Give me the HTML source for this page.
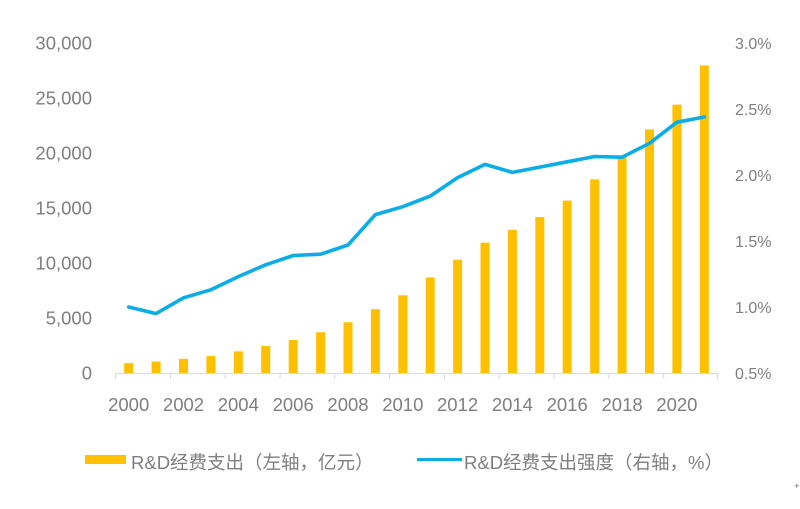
<!DOCTYPE html>
<html>
<head>
<meta charset="utf-8">
<style>
  html, body { margin: 0; padding: 0; background: #ffffff; }
  body { width: 800px; height: 509px; overflow: hidden; }
  svg { display: block; }
  .lab { font-family: "Liberation Sans", sans-serif; fill: #7f7f7f; }
  .leg { font-family: "Liberation Sans", "Noto Sans CJK SC", sans-serif; fill: #7f7f7f; font-size: 18.5px; }
</style>
</head>
<body>
<svg width="800" height="509" viewBox="0 0 800 509" xmlns="http://www.w3.org/2000/svg">
  <rect x="0" y="0" width="800" height="509" fill="#ffffff"/>

  <!-- left axis labels -->
  <g class="lab" font-size="18.5" text-anchor="end">
    <text x="92" y="49.5">30,000</text>
    <text x="92" y="104.5">25,000</text>
    <text x="92" y="159.5">20,000</text>
    <text x="92" y="214.5">15,000</text>
    <text x="92" y="269.5">10,000</text>
    <text x="92" y="324.5">5,000</text>
    <text x="92" y="379.5">0</text>
  </g>

  <!-- right axis labels -->
  <g class="lab" font-size="16" text-anchor="start">
    <text x="735" y="49">3.0%</text>
    <text x="735" y="115">2.5%</text>
    <text x="735" y="181">2.0%</text>
    <text x="735" y="247">1.5%</text>
    <text x="735" y="313">1.0%</text>
    <text x="735" y="379">0.5%</text>
  </g>

  <!-- bars -->
  <g fill="#FFC000">
    <rect x="124.2" y="363.15" width="9" height="9.85"/>
    <rect x="151.6" y="361.53" width="9" height="11.47"/>
    <rect x="179.0" y="358.84" width="9" height="14.16"/>
    <rect x="206.4" y="356.06" width="9" height="16.94"/>
    <rect x="233.8" y="351.37" width="9" height="21.63"/>
    <rect x="261.2" y="346.05" width="9" height="26.95"/>
    <rect x="288.7" y="339.97" width="9" height="33.03"/>
    <rect x="316.1" y="332.19" width="9" height="40.81"/>
    <rect x="343.5" y="322.22" width="9" height="50.78"/>
    <rect x="370.9" y="309.18" width="9" height="63.82"/>
    <rect x="398.3" y="295.31" width="9" height="77.69"/>
    <rect x="425.7" y="277.44" width="9" height="95.56"/>
    <rect x="453.1" y="259.72" width="9" height="113.28"/>
    <rect x="480.5" y="242.69" width="9" height="130.31"/>
    <rect x="507.9" y="229.83" width="9" height="143.17"/>
    <rect x="535.3" y="217.13" width="9" height="155.87"/>
    <rect x="562.7" y="200.56" width="9" height="172.44"/>
    <rect x="590.2" y="179.33" width="9" height="193.67"/>
    <rect x="617.6" y="156.54" width="9" height="216.46"/>
    <rect x="645.0" y="129.42" width="9" height="243.58"/>
    <rect x="672.4" y="104.68" width="9" height="268.32"/>
    <rect x="699.8" y="65.48" width="9" height="307.52"/>
  </g>

  <!-- x axis line and ticks -->
  <g stroke="#d9d9d9" stroke-width="1" fill="none">
    <line x1="115" y1="373.5" x2="718" y2="373.5"/>
    <line x1="115.5" y1="373" x2="115.5" y2="379"/>
    <line x1="170.3" y1="373" x2="170.3" y2="379"/>
    <line x1="225.1" y1="373" x2="225.1" y2="379"/>
    <line x1="280.0" y1="373" x2="280.0" y2="379"/>
    <line x1="334.8" y1="373" x2="334.8" y2="379"/>
    <line x1="389.6" y1="373" x2="389.6" y2="379"/>
    <line x1="444.4" y1="373" x2="444.4" y2="379"/>
    <line x1="499.2" y1="373" x2="499.2" y2="379"/>
    <line x1="554.1" y1="373" x2="554.1" y2="379"/>
    <line x1="608.9" y1="373" x2="608.9" y2="379"/>
    <line x1="663.7" y1="373" x2="663.7" y2="379"/>
    <line x1="717.5" y1="373" x2="717.5" y2="379"/>
  </g>

  <!-- line series -->
  <polyline fill="none" stroke="#0AADE6" stroke-width="3.6" stroke-linejoin="round" stroke-linecap="round"
    points="128.7,307 156.1,313.6 183.5,297.8 210.9,289.8 238.3,276.6 265.7,264.8 293.2,255.5 320.6,254.2 348.0,245.0 375.4,214.6 402.8,206.7 430.2,196.1 457.6,177.6 485.0,164.4 512.4,172.4 539.8,167.1 567.2,161.8 594.7,156.5 622.1,157.2 649.5,143.3 676.9,122.2 704.3,117.0"/>

  <!-- x labels -->
  <g class="lab" font-size="18.5" text-anchor="middle">
    <text x="128.7" y="411">2000</text>
    <text x="183.5" y="411">2002</text>
    <text x="238.3" y="411">2004</text>
    <text x="293.2" y="411">2006</text>
    <text x="348.0" y="411">2008</text>
    <text x="402.8" y="411">2010</text>
    <text x="457.6" y="411">2012</text>
    <text x="512.4" y="411">2014</text>
    <text x="567.2" y="411">2016</text>
    <text x="622.1" y="411">2018</text>
    <text x="676.9" y="411">2020</text>
  </g>

  <!-- legend -->
  <rect x="85" y="455" width="41" height="9" fill="#FFC000"/>
  <text class="leg" x="131" y="469">R&amp;D经费支出（左轴，亿元）</text>
  <line x1="417" y1="459.5" x2="462" y2="459.5" stroke="#0AADE6" stroke-width="3"/>
  <text class="leg" x="464" y="469">R&amp;D经费支出强度（右轴，%）</text>

  <!-- tiny plus mark -->
  <g stroke="#9a9a9a" stroke-width="1">
    <line x1="794.5" y1="485.7" x2="799" y2="485.7"/>
    <line x1="796.7" y1="483.5" x2="796.7" y2="488"/>
  </g>
</svg>
</body>
</html>
